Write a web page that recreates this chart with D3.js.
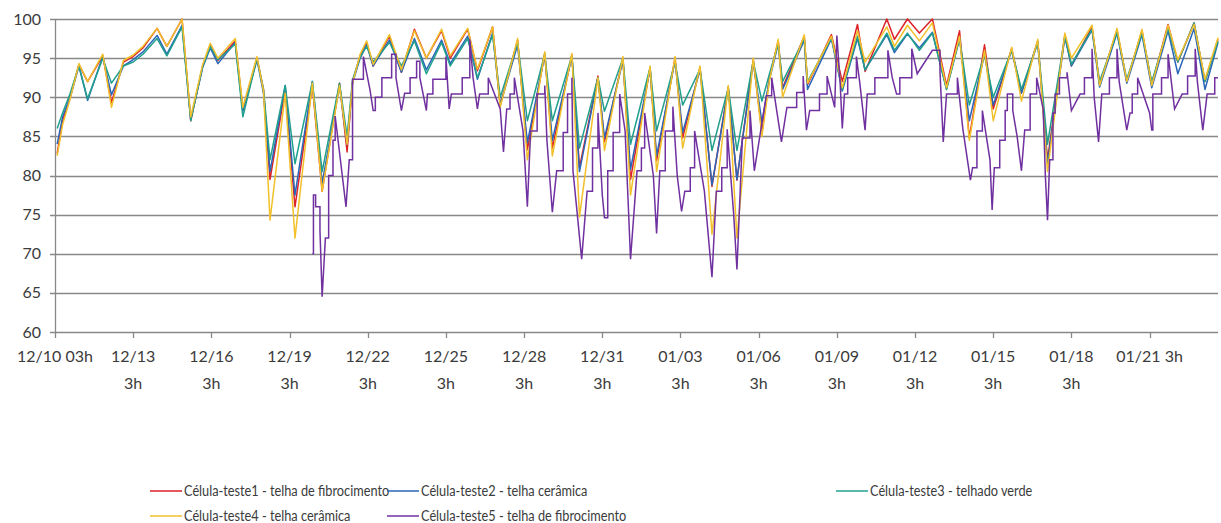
<!DOCTYPE html>
<html>
<head>
<meta charset="utf-8">
<script src="https://cdn.jsdelivr.net/npm/d3@7"></script>
<style>
  body { margin: 0; background: #fff; }
  svg text { font-family: Lato, "Open Sans", sans-serif; fill: #3b3b3b; }
</style>
</head>
<body>
<svg id="chart" width="1221" height="523"></svg>
<script>
// hours counted from 12/10 03h
var hours = [2,7,14,22,30,44,52,63,72,81,
  94,103,117,125,136,143,150,166,173,186,
  192,198,212,221,237,246,262,269,274,281,
  287,293,308,319,331,342,356,364,380,389,
  403,410,426,435,451,458,476,483,500,506,
  523,530,548,554,571,578,594,605,620,628,
  643,651,658,666,670,690,693,715,725,739,
  746,766,773,785,796,808,821,833,842,856,
  864,881,890,905,914,930,936,955,962,978,
  987,1001,1010,1025,1034,1049,1059,1071];

var cel1 = [82.8,87,90,94.2,92,95.3,89.3,94.5,95.2,96.3,
  98.8,96.5,100,87,94,96.7,94.7,97.2,88.5,95,
  91,79.5,91,76,91.5,78,91.8,83,92,95.3,
  97,94,97.8,93.2,98.7,95,98.5,95,98.7,93.4,
  99,89,97.3,83.3,95.6,83.5,95.4,81,92.7,84.3,
  95,79.5,93.8,81.9,95,84.8,93.8,78.6,91.3,79.4,
  94.8,85.5,92.5,97.2,91.2,97.8,91.6,98,92,99.3,
  93.3,100,97.4,100,98.2,100,91.5,98.5,84.8,96.7,
  88.5,96.2,90.6,97.2,82,98,94,99,91.6,98.6,
  92,98.5,91.6,99.3,94.5,99.5,92,97.4];

var cel2 = [84,87.5,90,94,89.6,95.2,90.3,94,94.8,95.8,
  97.9,95.5,99.2,87.2,93.8,96.3,94.3,97,88.2,94.8,
  90.5,80.5,91.5,77.5,92,79,91.5,84,91.8,95,
  96.7,94,97.3,93.2,97.5,93.5,97.3,94.3,97.8,92.3,
  98.2,89,96.7,84.2,95.4,84.5,95.2,80.5,92.5,84.8,
  94.7,80.8,93.6,82.5,94.7,85.5,93.5,78.8,91,79.5,
  94.5,86.8,92.3,96.8,91,97.3,91,97.5,90.8,97.5,
  93.5,98,95.7,98.1,96.3,98.3,91,97.5,87,95.5,
  89,96,90.5,97,81.5,97.7,94,98.6,91.3,98.2,
  91.8,98,91.2,98.5,93,98.8,91,97];

var cel3 = [86,88,90.5,94,89.8,95,91.8,94,94.5,95.5,
  97.5,95.3,99,87,94,96.5,94.8,96.8,87.5,95,
  91,82,91.5,81.5,92,80.5,91.8,85,92.2,95.2,
  96.5,94.5,97,94,97.2,93,97,94,97.5,92.5,
  98,90,97,87,95.5,87,95.3,83.5,92.5,88.2,
  95,84,93.8,85.7,94.5,89,93.6,83.2,91.2,83.2,
  94.6,89.5,93,96.9,92,97.5,92,97.6,91,97.8,
  93.5,98.2,96,98.2,96,98.2,91,97.5,89,95.5,
  90,96,91,97,84,97.8,94.2,98.7,92,98.3,
  92.3,98.2,92,98.8,94.5,99.5,92,97.2];

var cel4 = [82.5,86.5,89.8,94.3,92,95.5,88.7,94.7,95.4,96.5,
  98.8,96.5,100,87.5,94.2,96.9,95,97.5,88.7,95.2,
  90.8,74.3,90.5,72,91.8,78,91.5,84,91.8,95.5,
  97.2,94.2,98,93.5,98.5,95,98.7,95.3,98.8,93.6,
  99,88.7,97.5,82,95.8,82.5,95.6,74.7,92.5,83.2,
  95.2,77.5,94,80.5,95.2,83.5,94,72.5,91.5,72,
  95,85,92.2,97.4,90,98,91.8,97.8,91.2,98.5,
  94.5,99,96.5,99.2,97.2,99.5,91.2,97.8,84.5,96,
  87,96.4,89.5,97.4,80.5,98.2,95,99.2,91.5,98.8,
  92,98.7,91.5,99.2,94.8,99.3,92.3,97.6];

// cell 5 was logged coarser, so it gets its own time list
var hours5 = [237,238,240,244,246,249,252,256,258,268,
  271,274,284,290,293,295,301,310,314,319,
  322,327,333,336,342,343,348,360,363,365,
  375,382,385,389,391,399,410,413,416,419,
  423,431,435,438,444,451,453,458,462,468,
  472,476,477,481,485,490,495,500,504,506,
  509,514,520,525,528,530,536,540,543,551,
  554,557,562,569,573,577,580,585,589,598,
  605,609,614,619,625,628,633,640,644,655,
  660,669,674,683,689,692,695,704,711,718,
  720,723,725,727,730,738,741,746,748,755,
  767,771,775,778,789,794,808,815,818,821,
  831,836,843,845,849,854,861,863,865,870,
  875,877,882,886,890,893,898,904,910,912,
  914,916,919,921,925,932,936,944,948,955,
  957,961,964,971,978,980,987,990,992,997,
  1008,1010,1011,1019,1025,1028,1031,1038,1043,1050,
  1052,1057,1061,1068,1071];

var cel5 = [70,77.5,76,73,64.5,72,80,84.5,87.6,76,
  82,92.3,95.2,91,88.3,90,92.5,95.5,92.5,88.3,
  90.5,92.5,94.6,92.5,88.3,90.4,92.3,95.2,88.5,90.4,
  92.5,97.4,92.5,88.5,90.4,92.5,88.5,83,88.5,90.4,
  92.5,85.7,76,85.7,90.4,91.5,84.5,75.3,80.6,85.5,
  90.4,92.5,80.6,75,69.3,78,83.5,88,77.5,74.6,
  80.6,85.5,90.4,85.7,76,69.3,80.6,83.5,88,80,
  72.6,80.6,85.7,88.8,80,75.4,78,81,85.7,78,
  67,78,81,85.9,75,68,84.8,88.3,80.6,90.2,
  92.5,84.3,88.7,90.6,92.7,85.8,88.3,90.4,92.7,88.7,
  97.9,92,86,90.4,92.5,95.2,92,85.8,90.4,92.5,
  96,92.5,90.4,92.5,96.2,93,96,93.2,84.3,90.4,
  92.5,86,79.4,81,85.7,88.3,82,75.6,81,84.5,
  88.3,90.4,88.3,85,80.6,85.8,90.4,92.5,88.5,80,
  74.3,82,88,90.4,92.5,93.2,88.3,90.4,92.5,96.2,
  90,84.3,90.4,92.5,96.2,92,85.8,88,90.4,92.5,
  88,85.8,90.4,92.5,95.5,92,88.5,90.4,92.7,96.2,
  92,85.8,90.4,92.5,92.5];

var seriesNames = [
  "Célula-teste1 - telha de fibrocimento",
  "Célula-teste2 - telha cerâmica",
  "Célula-teste3 - telhado verde",
  "Célula-teste4 - telha cerâmica",
  "Célula-teste5 - telha de fibrocimento"
];

var tickHours = [0,72,144,216,288,360,432,504,576,648,720,792,864,936,1008];
var tickLabels = ["12/10 03h","12/13|3h","12/16|3h","12/19|3h","12/22|3h","12/25|3h",
  "12/28|3h","12/31|3h","01/03|3h","01/06|3h","01/09|3h","01/12|3h","01/15|3h",
  "01/18|3h","01/21 3h"];
var yTicks = [60,65,70,75,80,85,90,95,100];

!(function (d3) {

  var svg = d3.select("#chart"),
    left = 55, right = 1218, top = 19, bottom = 332;

  var colors = ["#dc2128", "#2a66b8", "#20a08c", "#f2c02a", "#7030a0"];

  var x = d3.scaleLinear().domain([0, 1071]).range([left, right]);
  var y = d3.scaleLinear().domain([60, 100]).range([bottom, top]);

  svg.append("rect").attr("width", 1221).attr("height", 523).attr("fill", "#fff");

  // horizontal grid
  svg.append("g")
    .selectAll("line")
    .data(yTicks)
    .enter().append("line")
    .attr("x1", left - 5).attr("x2", right)
    .attr("y1", function (d) { return Math.round(y(d)) + 0.5; })
    .attr("y2", function (d) { return Math.round(y(d)) + 0.5; })
    .attr("stroke", "#888")
    .attr("stroke-width", 1.3);

  // y axis line
  svg.append("line")
    .attr("x1", left + 0.5).attr("x2", left + 0.5)
    .attr("y1", top).attr("y2", bottom)
    .attr("stroke", "#888").attr("stroke-width", 1.3);

  svg.append("g")
    .selectAll("text")
    .data(yTicks)
    .enter().append("text")
    .attr("x", 41)
    .attr("y", function (d) { return y(d); })
    .attr("dy", "0.35em")
    .attr("text-anchor", "end")
    .style("font-size", "16px")
    .text(function (d) { return d; });

  // x ticks and labels
  svg.append("g")
    .selectAll("line")
    .data(tickHours)
    .enter().append("line")
    .attr("x1", function (d) { return Math.round(x(d)) + 0.5; })
    .attr("x2", function (d) { return Math.round(x(d)) + 0.5; })
    .attr("y1", bottom).attr("y2", bottom + 6)
    .attr("stroke", "#888").attr("stroke-width", 1.3);

  var lbl = svg.append("g")
    .selectAll("text")
    .data(tickHours)
    .enter().append("text")
    .attr("text-anchor", "middle")
    .style("font-size", "16px");

  lbl.each(function (d, i) {
    var parts = tickLabels[i].split("|");
    var t = d3.select(this);
    parts.forEach(function (p, j) {
      t.append("tspan")
        .attr("x", x(d))
        .attr("y", 362 + j * 27)
        .text(p);
    });
  });

  // series
  var line = d3.line()
    .x(function (d) { return x(d[0]); })
    .y(function (d) { return y(d[1]); });

  var smooth = [cel1, cel2, cel3, cel4];
  smooth.forEach(function (vals, i) {
    svg.append("path")
      .datum(hours.map(function (h, j) { return [h, vals[j]]; }))
      .attr("fill", "none")
      .attr("stroke", colors[i])
      .attr("stroke-width", 1.5)
      .attr("stroke-linejoin", "round")
      .attr("d", line);
  });

  // cell 5: flat steps, but the drops into a trough and the way out are slanted
  var pts5 = [];
  hours5.forEach(function (h, j) {
    pts5.push([h, cel5[j]]);
    if (j < hours5.length - 1) {
      var drop = cel5[j + 1] < cel5[j] - 3;
      var trough = j > 0 && cel5[j] < cel5[j - 1] - 3;
      if (!drop && !trough) pts5.push([hours5[j + 1], cel5[j]]);
    }
  });

  svg.append("path")
    .datum(pts5)
    .attr("fill", "none")
    .attr("stroke", colors[4])
    .attr("stroke-width", 1.5)
    .attr("d", line);

  // legend
  var legendPos = [[150, 491], [387, 491], [836, 491], [150, 516], [387, 516]];
  var leg = svg.append("g")
    .selectAll("g")
    .data(seriesNames)
    .enter().append("g")
    .attr("transform", function (d, i) { return "translate(" + legendPos[i][0] + "," + legendPos[i][1] + ")"; });

  leg.append("line")
    .attr("x1", 0).attr("x2", 32)
    .attr("stroke", function (d, i) { return colors[i]; })
    .attr("stroke-width", 1.5);

  leg.append("text")
    .attr("transform", "translate(34,0) scale(0.85,1)")
    .attr("dy", "0.35em")
    .style("font-size", "15px")
    .text(function (d) { return d; });

})(d3);
</script>
</body>
</html>
